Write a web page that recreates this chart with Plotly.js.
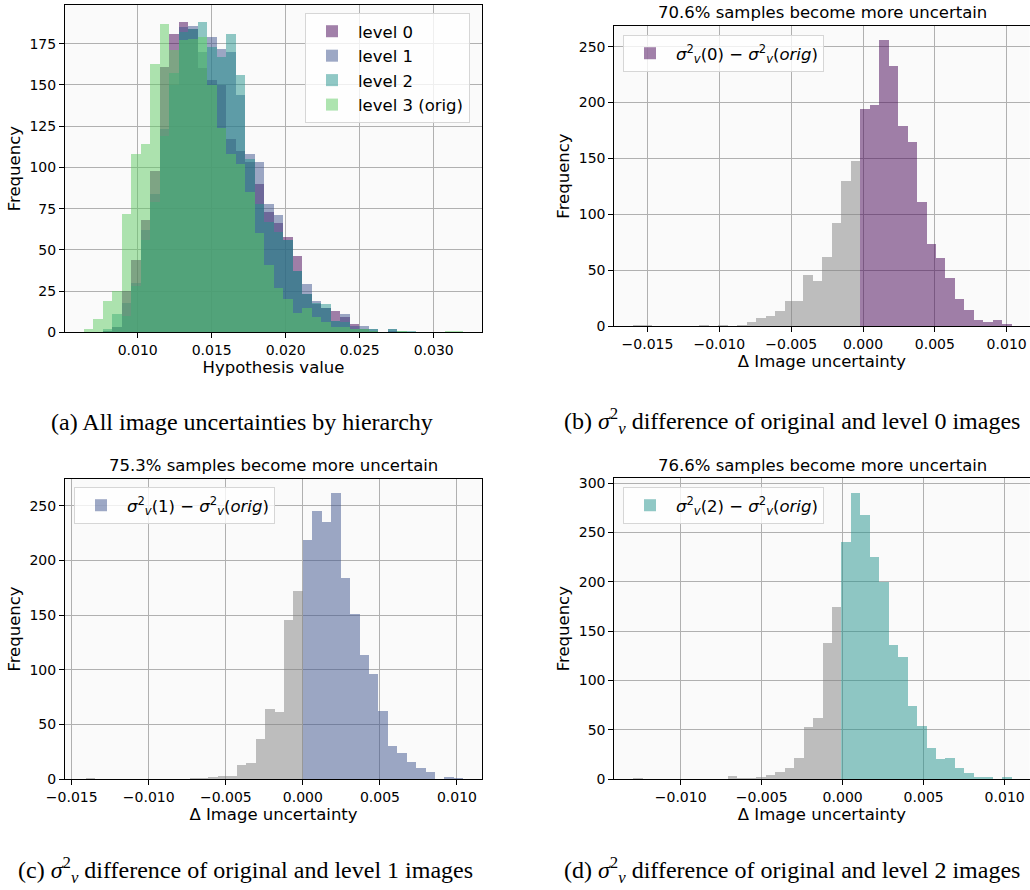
<!DOCTYPE html>
<html>
<head>
<meta charset="utf-8">
<script src="https://cdn.plot.ly/plotly-3.0.1.min.js"></script>
<style>html,body{margin:0;padding:0;background:#fff;}#chart{width:1030px;height:890px;}</style>
</head>
<body>
<div id="chart"></div>
<script>
// ---------- data ----------
// (a) all image uncertainties by hierarchy: 40 shared bins
const binStartA = 0.006372;
const binWidthA = 0.000641;
const level0 = [0,0,1,3,25,44,68,98,161,181,188,184,160,153,150,117,110,103,90,73,66,58,46,23,17,15,13,9,5,2,1,0,1,0,0,0,0,0,0,0];
const level1 = [0,0,1,3,18,30,62,84,123,150,185,186,170,179,172,170,144,108,103,78,71,56,37,29,19,15,7,11,4,4,2,0,2,0,0,0,0,0,0,0];
const level2 = [0,0,2,11,10,28,56,79,119,157,182,184,188,173,167,181,156,105,78,67,61,56,37,23,18,17,7,6,2,2,2,0,2,1,1,0,0,0,0,0];
const level3 = [2,8,19,25,72,108,114,163,187,171,177,178,179,150,124,108,102,85,60,41,27,20,12,15,9,6,3,3,2,2,1,0,0,1,0,0,0,0,1,1];
const levelNames = ["level 0", "level 1", "level 2", "level 3 (orig)"];

// (b) sigma_v^2(0) - sigma_v^2(orig)
const binStartB = -0.015987;
const binWidthB = 0.000659;
const countsB = [1,1,0,0,0,0,0,1,0,1,0,1,4,7,9,13,22,22,46,40,62,92,130,148,194,198,256,233,179,165,111,73,61,43,24,14,5,4,5,2];

// (c) sigma_v^2(1) - sigma_v^2(orig)
const binStartC = -0.014091;
const binWidthC = 0.0006126;
const countsC = [1,0,0,0,0,0,0,0,0,0,0,1,1,2,3,3,13,15,37,64,61,145,172,219,245,235,262,184,151,113,96,62,30,24,16,10,6,0,2,1];

// (d) sigma_v^2(2) - sigma_v^2(orig)
const binStartD = -0.012901;
const binWidthD = 0.0005838;
const countsD = [1,0,0,0,0,0,0,0,0,0,3,1,1,2,4,7,11,21,52,62,138,174,240,290,267,225,199,136,123,74,53,31,20,21,11,6,2,2,0,2];

const sig = "<i>σ</i><sup>2</sup><sub><i>v</i></sub>";
const diffNames = [sig + "(0) − " + sig + "(<i>orig</i>)", sig + "(1) − " + sig + "(<i>orig</i>)", sig + "(2) − " + sig + "(<i>orig</i>)"];
const panelTitles = ["70.6% samples become more uncertain", "75.3% samples become more uncertain", "76.6% samples become more uncertain"];
const captions = [
  "(a) All image uncertainties by hierarchy",
  "(b) " + sig + " difference of original and level 0 images",
  "(c) " + sig + " difference of original and level 1 images",
  "(d) " + sig + " difference of original and level 2 images"
];
const xLabelA = "Hypothesis value";
const xLabelDiff = "Δ Image uncertainty";
const yLabel = "Frequency";

// ---------- styling ----------
const viridis = ["rgba(68,1,84,0.5)", "rgba(59,82,139,0.5)", "rgba(33,145,140,0.5)", "rgba(94,201,98,0.5)"];
const grey = "rgba(128,128,128,0.5)";
const FONT = "DejaVu Sans, Liberation Sans, sans-serif";
const SERIF = "Liberation Serif, Times New Roman, serif";

function centers(start, width, n) {
  const out = [];
  for (let k = 0; k < n; k++) out.push(start + (k + 0.5) * width);
  return out;
}

const traces = [];
// panel (a)
[level0, level1, level2, level3].forEach((arr, i) => {
  traces.push({
    type: "bar", x: centers(binStartA, binWidthA, arr.length), y: arr, width: binWidthA,
    name: levelNames[i], marker: {color: viridis[i], line: {width: 0}},
    xaxis: "x", yaxis: "y", legend: "legend", legendgroup: "a" + i, hoverinfo: "x+y"
  });
});

// panels (b),(c),(d)
const diffPanels = [
  {start: binStartB, width: binWidthB, counts: countsB, ax: ["x2", "y2"], leg: "legend2", col: viridis[0]},
  {start: binStartC, width: binWidthC, counts: countsC, ax: ["x3", "y3"], leg: "legend3", col: viridis[1]},
  {start: binStartD, width: binWidthD, counts: countsD, ax: ["x4", "y4"], leg: "legend4", col: viridis[2]}
];
diffPanels.forEach((p, i) => {
  const c = centers(p.start, p.width, p.counts.length);
  const gx = [], gy = [], px = [], py = [];
  c.forEach((xv, k) => { if (xv > 0) { px.push(xv); py.push(p.counts[k]); } else { gx.push(xv); gy.push(p.counts[k]); } });
  traces.push({type: "bar", x: gx, y: gy, width: p.width, marker: {color: grey, line: {width: 0}},
    xaxis: p.ax[0], yaxis: p.ax[1], showlegend: false, hoverinfo: "x+y"});
  traces.push({type: "bar", x: px, y: py, width: p.width, name: diffNames[i], marker: {color: p.col, line: {width: 0}},
    xaxis: p.ax[0], yaxis: p.ax[1], legend: p.leg, hoverinfo: "x+y"});
});

// ---------- layout ----------
const W = 1030, H = 890;
const px2x = v => v / W;
const py2y = v => 1 - v / H;

function xax(domPx, range, title) {
  return {
    domain: [px2x(domPx[0]), px2x(domPx[1])], range: range, dtick: 0.005, tick0: 0, tickformat: ".3f",
    showgrid: true, gridcolor: "#b0b0b0", gridwidth: 1, zeroline: false,
    showline: true, mirror: true, linecolor: "#000", linewidth: 1,
    ticks: "outside", ticklen: 5, tickwidth: 1, tickcolor: "#000",
    tickfont: {family: FONT, size: 14, color: "#000"},
    title: {text: title, font: {family: FONT, size: 16.5, color: "#000"}, standoff: 4},
    automargin: false, fixedrange: true
  };
}
function yax(domPx, range, dtick, anchor) {
  return {
    domain: [py2y(domPx[1]), py2y(domPx[0])], range: range, dtick: dtick, tick0: 0, anchor: anchor,
    showgrid: true, gridcolor: "#b0b0b0", gridwidth: 1, zeroline: false,
    showline: true, mirror: true, linecolor: "#000", linewidth: 1,
    ticks: "outside", ticklen: 5, tickwidth: 1, tickcolor: "#000",
    tickfont: {family: FONT, size: 14, color: "#000"},
    title: {text: yLabel, font: {family: FONT, size: 16.5, color: "#000"}, standoff: 4},
    automargin: false, fixedrange: true
  };
}

const legStyle = {
  bgcolor: "rgba(255,255,255,0.8)", bordercolor: "#d6d6d6", borderwidth: 1,
  font: {family: FONT, size: 16.5, color: "#000"}, xanchor: "left", yanchor: "top",
  tracegroupgap: 0, itemwidth: 42, itemclick: false, itemdoubleclick: false
};

function ann(text, xPx, yPx, family, size) {
  return {text: text, x: px2x(xPx), y: py2y(yPx), xref: "paper", yref: "paper", xanchor: "center", yanchor: "middle",
    showarrow: false, font: {family: family, size: size, color: "#000"}};
}

const layout = {
  width: W, height: H, margin: {l: 0, r: 0, t: 0, b: 0},
  paper_bgcolor: "#ffffff", plot_bgcolor: "#fafafa",
  barmode: "overlay", bargap: 0, showlegend: true,
  font: {family: FONT, color: "#000"},
  xaxis: Object.assign(xax([65, 482], [0.005088, 0.033264], xLabelA), {anchor: "y"}),
  yaxis: yax([5, 332.3], [0, 198.5], 25, "x"),
  xaxis2: Object.assign(xax([614.3, 1029.5], [-0.017312, 0.01159], xLabelDiff), {anchor: "y2"}),
  yaxis2: yax([26, 326], [0, 268.5], 50, "x2"),
  xaxis3: Object.assign(xax([65, 482], [-0.015435, 0.011623], xLabelDiff), {anchor: "y3"}),
  yaxis3: yax([479, 779], [0, 274.4], 50, "x3"),
  xaxis4: Object.assign(xax([614.3, 1029.5], [-0.014097, 0.011533], xLabelDiff), {anchor: "y4"}),
  yaxis4: yax([478.3, 779], [0, 304.8], 50, "x4"),
  legend: Object.assign({}, legStyle, {x: px2x(305), y: py2y(13)}),
  legend2: Object.assign({}, legStyle, {x: px2x(623), y: py2y(35)}),
  legend3: Object.assign({}, legStyle, {x: px2x(74), y: py2y(487)}),
  legend4: Object.assign({}, legStyle, {x: px2x(623), y: py2y(487)}),
  annotations: [
    ann(panelTitles[0], 822, 13, FONT, 16.5),
    ann(panelTitles[1], 273.5, 465, FONT, 16.5),
    ann(panelTitles[2], 822, 465, FONT, 16.5),
    ann(captions[0], 241.5, 422, SERIF, 24),
    ann(captions[1], 792, 421, SERIF, 24),
    ann(captions[2], 245, 870, SERIF, 24),
    ann(captions[3], 792, 870, SERIF, 24)
  ]
};

Plotly.newPlot("chart", traces, layout, {displayModeBar: false, responsive: false});
</script>
</body>
</html>
